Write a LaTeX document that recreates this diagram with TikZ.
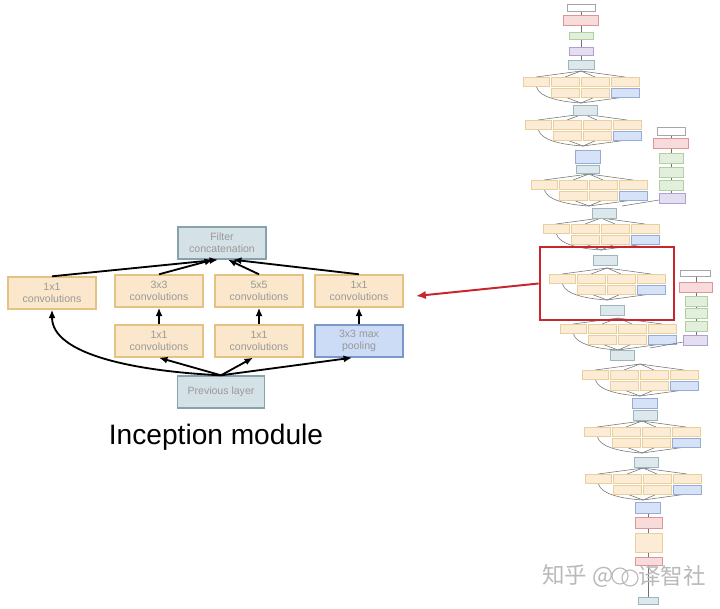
\documentclass[tikz,border=0pt]{standalone}
\usepackage{fontspec}
\setmainfont{Liberation Sans}
\newfontfamily\cjk{Noto Sans CJK SC}
\usetikzlibrary{positioning,arrows.meta,calc}

\definecolor{convfill}{HTML}{FBE7CB}
\definecolor{convline}{HTML}{E4C382}
\definecolor{catfill}{HTML}{D4E2E7}
\definecolor{catline}{HTML}{86A3AC}
\definecolor{poolfill}{HTML}{CCDBF6}
\definecolor{poolline}{HTML}{7D96C8}
\definecolor{stemfill}{HTML}{F6D3D3}
\definecolor{stemline}{HTML}{D77B7B}
\definecolor{fcfill}{HTML}{DCEBD5}
\definecolor{fcline}{HTML}{9CC48A}
\definecolor{softfill}{HTML}{DED6EE}
\definecolor{softline}{HTML}{9A88C9}
\definecolor{markred}{HTML}{C9252C}

\tikzset{
  convbox/.style={draw=convline,fill=convfill,line width=1pt,minimum width=2.2cm,minimum height=0.8cm,
    align=center,font=\fontsize{7.5}{8.5}\selectfont,text=gray!80,inner sep=1pt},
  catbox/.style={convbox,draw=catline,fill=catfill},
  poolbox/.style={convbox,draw=poolline,fill=poolfill},
  flow/.style={-{Latex[length=6pt,width=5pt]},line width=1.3pt},
  mini/.style={line width=0.4pt,black!55},
  miniconv/.style={draw=convline!80!white,fill=convfill!80!white,line width=0.5pt},
  minicat/.style={draw=catline!80!white,fill=catfill!80!white,line width=0.5pt},
  minipool/.style={draw=poolline!80!white,fill=poolfill!80!white,line width=0.5pt},
  ministem/.style={draw=stemline!80!white,fill=stemfill!80!white,line width=0.5pt},
  minifc/.style={draw=fcline!80!white,fill=fcfill!80!white,line width=0.5pt},
  minisoft/.style={draw=softline!80!white,fill=softfill!80!white,line width=0.5pt},
  miniin/.style={draw=gray!70,fill=white,line width=0.5pt},
}

% one small inception block of the network column
\newcommand{\incblock}[2]{%
  \begin{scope}[shift={(#1,#2)}]
    \foreach \a in {-45,-16,14,44} \draw[mini] (0,-4) -- (\a,2);
    \foreach \a in {-16,14,44} \draw[mini] (\a,22) -- (0,28);
    \draw[mini] (-45,11) .. controls (-42,24) and (-15,27) .. (0,28);
    \draw[miniconv] (-58,2) rectangle (-32,11);
    \draw[miniconv] (-30,2) rectangle (-2,11);
    \draw[miniconv] (0,2) rectangle (28,11);
    \draw[miniconv] (30,2) rectangle (58,11);
    \draw[miniconv] (-30,13) rectangle (-2,22);
    \draw[miniconv] (0,13) rectangle (28,22);
    \draw[minipool] (30,13) rectangle (58,22);
  \end{scope}}

\begin{document}
\begin{tikzpicture}[x=0.025cm,y=-0.025cm,>=Latex]
\useasboundingbox (0,0) rectangle (720,608);

% inception module
\node[catbox] (concat) at (222,243) {Filter\\concatenation};
\node[convbox] (convA) at (52,293) {1x1\\convolutions};
\node[convbox] (convB) at (159,291) {3x3\\convolutions};
\node[convbox] (convC) at (259,291) {5x5\\convolutions};
\node[convbox] (convD) at (359,291) {1x1\\convolutions};
\node[convbox] (redB) at (159,341) {1x1\\convolutions};
\node[convbox] (redC) at (259,341) {1x1\\convolutions};
\node[poolbox] (pool) at (359,341) {3x3 max\\pooling};
\node[catbox,minimum width=2.175cm] (prev) at (221,392) {Previous layer};

\draw[flow] (convA.north) -- ([xshift=-0.1cm]concat.south);
\draw[flow] (convB.north) -- ([xshift=-0.225cm]concat.south);
\draw[flow] (convC.north) -- ([xshift=0.15cm]concat.south);
\draw[flow] (convD.north) -- ([xshift=0.275cm]concat.south);
\draw[flow] (redB) -- (convB);
\draw[flow] (redC) -- (convC);
\draw[flow] (pool) -- (convD);
\draw[flow] (prev.north) -- (redB.south);
\draw[flow] (prev.north) -- ([xshift=-0.15cm]redC.south);
\draw[flow] (prev.north) -- ([xshift=-0.175cm]pool.south);
\draw[flow] (prev.north) .. controls ($(prev.north)+(-85,-4)$) and ($(convA.south)+(0,45)$) .. (convA.south);

\node[font=\fontsize{20}{24}\selectfont] (caption) at (216,437) {Inception module};

% network column
\draw[mini] (581,11) -- (581,62);
\draw[miniin] (567,4) rectangle (595,11);
\draw[ministem] (563,15) rectangle (598,25);
\draw[minifc] (569,32) rectangle (593,39);
\draw[minisoft] (569,47) rectangle (593,55);
\draw[minicat] (568,60) rectangle (594,69);

\foreach \cx/\cy in {581/75,583/118,589/178,601/222,607/272,618/322,640/368,642/425,643/472}
  \incblock{\cx}{\cy};

\foreach \cx/\cy in {585/105,604/208,605/255,612/305,622/350,646/457}
  \draw[minicat] (\cx-12,\cy) rectangle (\cx+12,\cy+10);
\draw[minipool] (575,150) rectangle (600,163);
\draw[minicat] (576,165) rectangle (599,173);
\draw[minipool] (632,398) rectangle (657,408);
\draw[minicat] (633,410) rectangle (657,420);

% tail
\draw[mini] (648,513) -- (648,597);
\draw[minipool] (635,502) rectangle (660,513);
\draw[ministem] (635,517) rectangle (662,528);
\draw[miniconv] (635,533) rectangle (662,552);
\draw[ministem] (635,557) rectangle (662,565);
\draw[minicat] (638,597) rectangle (658,604);

% side branches
\draw[mini] (671,135) -- (671,193);
\draw[mini] (659,200) -- (622,206);
\draw[miniin] (657,127) rectangle (685,135);
\draw[ministem] (653,138) rectangle (688,148);
\foreach \cy in {153,167,180}
  \draw[minifc] (659,\cy) rectangle (683,\cy+10);
\draw[minisoft] (659,193) rectangle (685,203);

\draw[mini] (696,276) -- (696,335);
\draw[mini] (683,342) -- (650,348);
\draw[miniin] (680,270) rectangle (710,276);
\draw[ministem] (679,282) rectangle (712,292);
\foreach \cy in {296,308,321}
  \draw[minifc] (685,\cy) rectangle (707,\cy+10);
\draw[minisoft] (683,335) rectangle (707,345);

% highlight
\node[draw=markred,line width=2pt,minimum width=3.35cm,minimum height=1.825cm] (focus) at (607,283.5) {};
\coordinate (target) at (416,296);
\draw[markred,line width=1.4pt,-{Latex[length=7pt,width=6pt]}] (focus.west) -- (target);

% watermark
\node[font=\cjk\fontsize{16}{18}\selectfont,text=gray!55] (markA) at (578,576) {知乎 @};
\draw[gray!55,line width=0.8pt] (620,576) circle (8) (630,578) circle (8);
\node[font=\cjk\fontsize{16}{18}\selectfont,text=gray!55] (markB) at (672,576) {译智社};
\end{tikzpicture}
\end{document}
